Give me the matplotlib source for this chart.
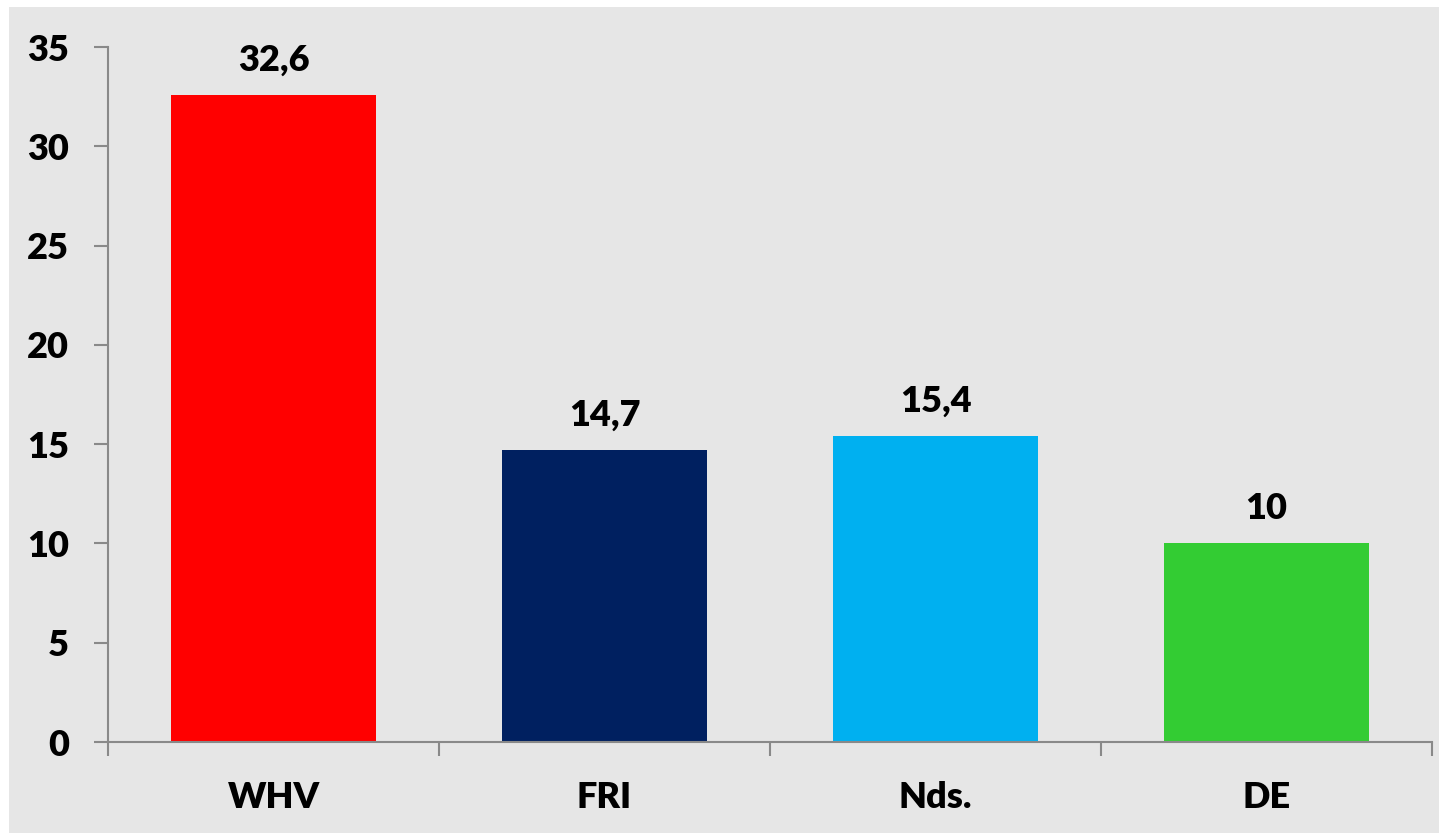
import matplotlib
matplotlib.use('Agg')
import matplotlib.pyplot as plt
import numpy as np

categories = ['WHV', 'FRI', 'Nds.', 'DE']
values = [32.6, 14.7, 15.4, 10]
colors = ['#FF0000', '#002060', '#00B0F0', '#33CC33']

plt.rcParams['font.family'] = ['Lato', 'DejaVu Sans']
plt.rcParams['font.weight'] = 'heavy'

bg = '#e6e6e6'
axis_col = '#898989'
fs = 26

fig = plt.figure(figsize=(14.39, 8.33), dpi=100, facecolor='white')
# gray chart area (small white margin top/left as in the original)
fig.patches.append(plt.Rectangle((9 / 1439, 0), 1, 1 - 7 / 833, transform=fig.transFigure,
                                 facecolor=bg, edgecolor='none', zorder=-1))
ax = fig.add_axes([108 / 1439, 1 - 742 / 833, (1432 - 108) / 1439, (742 - 47) / 833])
ax.set_facecolor(bg)

x = np.arange(len(categories))
ax.bar(x, values, width=0.62, color=colors, zorder=2)
for xi, v in zip(x, values):
    ax.annotate(f"{v:g}".replace('.', ','), (xi, v), xytext=(0, 13), textcoords='offset points',
                ha='center', va='bottom', fontsize=fs, fontweight='heavy')

ax.set_xlim(-0.5, len(categories) - 0.5)
ax.set_ylim(0, 35)
ax.set_yticks(range(0, 36, 5))
ax.set_xticks(x)
ax.set_xticklabels(categories)
ax.set_xticks(np.arange(-0.5, len(categories)), minor=True)
ax.tick_params(axis='x', which='major', length=0, pad=28, labelsize=fs)
ax.tick_params(axis='x', which='minor', length=10, width=1.5, color=axis_col)
ax.tick_params(axis='y', length=10, width=1.5, color=axis_col, pad=18, labelsize=fs)

for s in ['top', 'right']:
    ax.spines[s].set_visible(False)
for s in ['left', 'bottom']:
    ax.spines[s].set_color(axis_col)
    ax.spines[s].set_linewidth(1.5)

plt.savefig('out.png', dpi=100, facecolor='white')
plt.close()
